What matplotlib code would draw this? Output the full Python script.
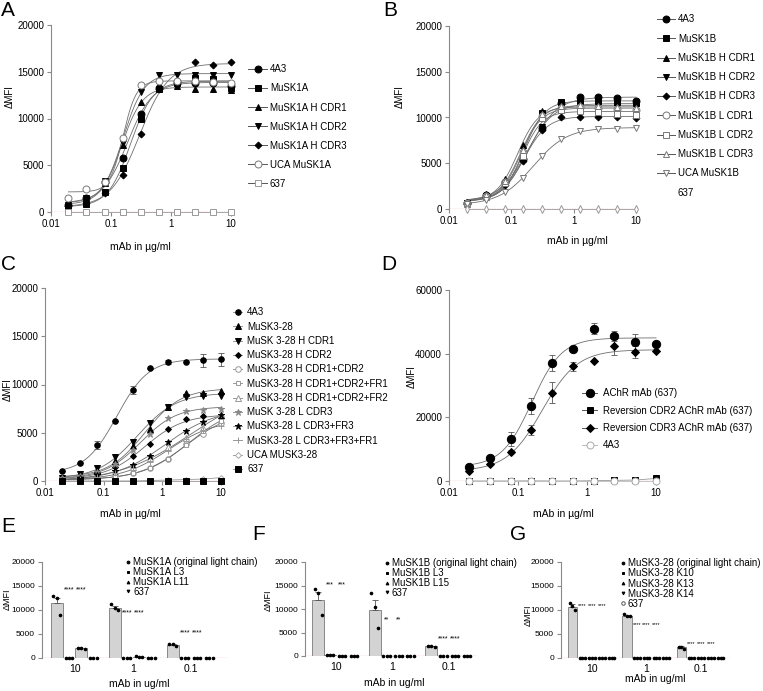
import numpy as np
import matplotlib
matplotlib.use('Agg')
import matplotlib.pyplot as plt
from matplotlib.lines import Line2D

plt.rcParams['font.family'] = ['Liberation Sans', 'DejaVu Sans']

# ---------------- data ----------------
conc = [0.0195, 0.039, 0.078, 0.156, 0.3125, 0.625, 1.25, 2.5, 5, 10]
conc_ticks = [0.01, 0.1, 1, 10]
conc_ticklabels = ['0.01', '0.1', '1', '10']

# Panel A
A_labels = ['4A3', 'MuSK1A', 'MuSK1A H CDR1', 'MuSK1A H CDR2', 'MuSK1A H CDR3', 'UCA MuSK1A', '637']
A_4A3 = [800, 1500, 3200, 5800, 10500, 13300, 13800, 13800, 13800, 13500]
A_MuSK1A = [500, 900, 2100, 4700, 10000, 13200, 13800, 14300, 14200, 13300]
A_HCDR1 = [700, 1300, 3100, 7200, 11800, 13400, 13500, 13200, 13200, 13100]
A_HCDR2 = [800, 1500, 3300, 7400, 12800, 14700, 14700, 14700, 14700, 14700]
A_HCDR3 = [600, 1000, 2000, 4000, 8300, 13200, 14000, 16000, 15700, 16000]
A_UCA = [1500, 2500, 3200, 7900, 13600, 14000, 14000, 14000, 13900, 13800]
A_637 = [0, 0, 0, 0, 0, 0, 0, 0, 0, 0]

# Panel B
B_labels = ['4A3', 'MuSK1B', 'MuSK1B H CDR1', 'MuSK1B H CDR2', 'MuSK1B H CDR3',
            'MuSK1B L CDR1', 'MuSK1B L CDR2', 'MuSK1B L CDR3', 'UCA MuSK1B', '637']
B_4A3 = [700, 1500, 3000, 5500, 8800, 11600, 12200, 12200, 12100, 11800]
B_MuSK1B = [700, 1400, 2800, 6000, 10500, 11700, 11800, 11800, 11700, 11600]
B_HCDR1 = [800, 1600, 3300, 7000, 10700, 11200, 11300, 11200, 11000, 10800]
B_HCDR2 = [600, 1300, 2700, 5300, 9000, 11200, 11500, 11400, 11300, 11300]
B_HCDR3 = [600, 1300, 2600, 5200, 8600, 10000, 10000, 10100, 10100, 9900]
B_LCDR1 = [700, 1400, 2900, 6200, 10200, 11000, 11100, 11000, 10900, 10800]
B_LCDR2 = [600, 1300, 2800, 5800, 9900, 10800, 10700, 10600, 10400, 10300]
B_LCDR3 = [700, 1500, 3100, 6500, 10400, 11300, 11400, 11300, 11200, 11000]
B_UCA = [500, 1000, 1900, 3400, 5800, 7600, 8500, 8700, 8700, 8900]
B_637 = [0, 0, 0, 0, 0, 0, 0, 0, 0, 0]

# Panel C
C_labels = ['4A3', 'MuSK3-28', 'MuSK 3-28 H CDR1', 'MuSK3-28 H CDR2', 'MuSK3-28 H CDR1+CDR2',
            'MuSK3-28 H CDR1+CDR2+FR1', 'MuSK3-28 H CDR1+CDR2+FR2', 'MuSK 3-28 L CDR3',
            'MuSK3-28 L CDR3+FR3', 'MuSK3-28 L CDR3+FR3+FR1', 'UCA MUSK3-28', '637']
C_4A3 = [1000, 1900, 3700, 6200, 9400, 11700, 12300, 12300, 12500, 12600]
C_4A3_err = [0, 0, 400, 0, 400, 0, 200, 0, 700, 700]
C_MuSK328 = [300, 600, 1100, 2100, 3600, 5400, 7700, 9100, 9100, 9300]
C_HCDR1 = [300, 700, 1300, 2500, 4000, 6000, 7700, 8700, 8800, 8800]
C_HCDR2 = [200, 400, 800, 1500, 2600, 3800, 5400, 6400, 6700, 6500]
C_HCDR12 = [100, 200, 300, 500, 800, 1300, 2300, 3800, 4900, 6000]
C_HCDR12FR1 = [100, 150, 300, 500, 800, 1300, 2300, 3700, 5200, 6200]
C_HCDR12FR2 = [200, 300, 500, 900, 1500, 2400, 3500, 4500, 5500, 6900]
C_LCDR3 = [300, 500, 900, 1800, 3200, 4900, 6500, 7300, 7400, 7500]
C_LCDR3FR3 = [100, 300, 600, 1000, 1700, 2600, 4000, 5200, 6100, 6800]
C_LCDR3FR3FR1 = [100, 200, 400, 800, 1300, 2000, 3100, 4400, 5300, 5700]
C_UCA = [0, 0, 0, 0, 0, 50, 100, 150, 200, 350]
C_637 = [0, 0, 0, 0, 0, 0, 0, 0, 0, 0]

# Panel D
D_labels = ['AChR mAb (637)', 'Reversion CDR2 AChR mAb (637)', 'Reversion CDR3 AChR mAb (637)', '4A3']
D_AChR = [4400, 7100, 13300, 23500, 37000, 41500, 47900, 45500, 43700, 42900]
D_AChR_err = [800, 500, 2200, 2500, 2600, 500, 1800, 1600, 2500, 0]
D_CDR2 = [0, 0, 0, 50, 0, 0, 100, 200, 300, 800]
D_CDR3 = [3000, 5300, 9200, 16000, 27800, 36000, 37800, 42500, 40500, 40800]
D_CDR3_err = [300, 300, 500, 1500, 3200, 1500, 0, 3000, 2000, 0]
D_4A3 = [0, 0, 0, 0, 0, 0, 0, 0, 0, 0]

# Bar panels
bar_groups = ['10', '1', '0.1']

E_labels = ['MuSK1A (original light chain)', 'MuSK1A L3', 'MuSK1A L11', '637']
E_means = [[11400, 10500, 2800], [60, 60, 60], [2000, 300, 60], [40, 40, 40]]
E_points = [[[13000, 12600, 9000], [11300, 10400, 10100], [3000, 2900, 2600]],
            [[50, 50, 50], [50, 50, 50], [50, 50, 50]],
            [[2100, 2000, 1900], [350, 300, 250], [60, 60, 60]],
            [[40, 40, 40], [40, 40, 40], [40, 40, 40]]]
E_err = [1200, 400, 150]
E_stars = ['****', '****', '****']
E_star_y = [14200, 9500, 5300]

F_labels = ['MuSK1B (original light chain)', 'MuSK1B L3', 'MuSK1B L15', '637']
F_means = [[12000, 9800, 2100], [200, 60, 60], [60, 60, 60], [40, 40, 40]]
F_points = [[[14200, 13500, 8800], [13400, 10500, 6000], [2200, 2100, 2000]],
            [[200, 200, 150], [60, 60, 60], [60, 60, 60]],
            [[60, 60, 60], [60, 60, 60], [60, 60, 60]],
            [[40, 40, 40], [40, 40, 40], [40, 40, 40]]]
F_err = [1700, 2200, 80]
F_stars = ['***', '**', '****']
F_star_y = [15200, 7600, 3700]

G_labels = ['MuSK3-28 (original light chain)', 'MuSK3-28 K10', 'MuSK3-28 K13', 'MuSK3-28 K14', '637']
G_means = [[10700, 8700, 2200], [60, 60, 60], [40, 40, 40], [60, 60, 60], [40, 40, 40]]
G_points = [[[11400, 10900, 10000], [9100, 8800, 8700], [2300, 2200, 1900]],
            [[60, 60, 60], [60, 60, 60], [60, 60, 60]],
            [[40, 40, 40], [40, 40, 40], [40, 40, 40]],
            [[60, 60, 60], [60, 60, 60], [60, 60, 60]],
            [[40, 40, 40], [40, 40, 40], [40, 40, 40]]]
G_err = [500, 150, 200]
G_stars = ['****', '****', '****']
G_star_y = [11000, 6900, 3000]

# ---------------- helpers ----------------
W, H = 763, 691
fig = plt.figure(figsize=(W / 100, H / 100), dpi=100)
GRAY = '#8a8a8a'
CURVE = '#6e6e6e'
RED = '#e8403a'


def add_ax(l, t, r, b):
    return fig.add_axes([l / W, 1 - b / H, (r - l) / W, (b - t) / H])


def ftext(x, y, s, **kw):
    kw.setdefault('ha', 'center')
    kw.setdefault('va', 'center')
    fig.text(x / W, 1 - y / H, s, **kw)


def style(ax, ymax, ystep, fs=7):
    for s in ['top', 'right', 'bottom']:
        ax.spines[s].set_visible(False)
    ax.spines['left'].set_color(GRAY)
    ax.spines['left'].set_linewidth(0.8)
    ax.axhline(0, color=RED, ls=(0, (1, 1)), lw=0.9, zorder=1.6)
    ax.set_ylim(0, ymax)
    ax.set_yticks(np.arange(0, ymax + 1, ystep))
    ax.set_yticklabels([str(int(v)) for v in np.arange(0, ymax + 1, ystep)])
    ax.tick_params(colors=GRAY, labelcolor='black', labelsize=fs, length=3, width=0.8, pad=2)
    ax.patch.set_alpha(0)


def log_axis(ax):
    ax.set_xscale('log')
    ax.set_xlim(0.01, 10)
    ax.set_xticks(conc_ticks)
    ax.set_xticklabels(conc_ticklabels)
    ax.minorticks_off()


def fit4pl(x, y):
    lx = np.log10(np.asarray(x, float))
    y = np.asarray(y, float)
    les = np.linspace(-2.5, 1.5, 161)
    hs = np.linspace(0.4, 4.0, 37)
    LE, HH = np.meshgrid(les, hs, indexing='ij')
    S = 1.0 / (1.0 + 10 ** ((LE[..., None] - lx) * HH[..., None]))
    A0 = 1 - S
    a00 = (A0 * A0).sum(-1); a01 = (A0 * S).sum(-1); a11 = (S * S).sum(-1)
    b0 = (A0 * y).sum(-1); b1 = (S * y).sum(-1)
    det = a00 * a11 - a01 ** 2
    det = np.where(det < 1e-9, np.nan, det)
    bot = (a11 * b0 - a01 * b1) / det
    top = (a00 * b1 - a01 * b0) / det
    pred = bot[..., None] * A0 + top[..., None] * S
    sse = ((pred - y) ** 2).sum(-1)
    i = np.unravel_index(np.nanargmin(sse), sse.shape)
    return bot[i], top[i], LE[i], HH[i]


def curve(ax, x, y, fit=True, lc=CURVE, lw=0.6):
    x = np.asarray(x, float)
    y = np.asarray(y, float)
    if fit and np.ptp(y) > 0:
        b, t, le, h = fit4pl(x, y)
        xs = np.logspace(np.log10(x.min()), np.log10(x.max()), 200)
        ys = b + (t - b) / (1 + 10 ** ((le - np.log10(xs)) * h))
        ax.plot(xs, ys, color=lc, lw=lw, zorder=2, clip_on=False)
    else:
        ax.plot(x, y, color=lc, lw=lw, zorder=2, clip_on=False)


def points(ax, x, y, spec, err=None):
    m, fc, ec, ms = spec
    if err is not None:
        ax.errorbar(x, y, yerr=err, fmt='none', ecolor='#555555', elinewidth=0.6,
                    capsize=2, capthick=0.6, zorder=3, clip_on=False)
    ax.plot(x, y, ls='none', marker=m, mfc=fc, mec=ec, ms=ms, mew=0.7, zorder=4, clip_on=False)


def handle(spec, line=True, lc='#555555'):
    m, fc, ec, ms = spec
    return Line2D([0], [0], color=lc if line else 'none', lw=0.7, marker=m, mfc=fc, mec=ec,
                  ms=ms, mew=0.7)


def legend(ax, handles, labels, x, yc, fs, pitch_px, hlen_px, pad_px):
    pt = 0.72
    ls = (pitch_px * pt - 0.95 * fs) / fs
    top = yc - 0.95 * fs / pt / 2
    lg = ax.legend(handles, labels, loc='upper left', bbox_to_anchor=(x / W, 1 - top / H),
                   bbox_transform=fig.transFigure, frameon=False, fontsize=fs,
                   labelspacing=ls, handlelength=hlen_px * pt / fs,
                   handletextpad=pad_px * pt / fs, borderpad=0, borderaxespad=0,
                   handleheight=0.7, numpoints=1)
    return lg


# ---------------- Panel A ----------------
axA = add_ax(51, 25, 231, 212)
style(axA, 20000, 5000)
log_axis(axA)
A_data = [A_4A3, A_MuSK1A, A_HCDR1, A_HCDR2, A_HCDR3, A_UCA, A_637]
A_spec = [('o', 'k', 'k', 5), ('s', 'k', 'k', 4.5), ('^', 'k', 'k', 5), ('v', 'k', 'k', 5),
          ('D', 'k', 'k', 3.5), ('o', 'white', '#777777', 5), ('s', 'white', '#999999', 4.5)]
for d, sp in zip(A_data, A_spec):
    curve(axA, conc, d, fit=(max(d) > 0), lc=('#999999' if max(d) == 0 else CURVE))
for d, sp in zip(A_data, A_spec):
    points(axA, conc, d, sp)
legend(axA, [handle(s) for s in A_spec], A_labels, 248, 69, 7, 18.3, 19, 3)

# ---------------- Panel B ----------------
axB = add_ax(449, 26, 636, 209)
style(axB, 20000, 5000)
log_axis(axB)
B_data = [B_4A3, B_MuSK1B, B_HCDR1, B_HCDR2, B_HCDR3, B_LCDR1, B_LCDR2, B_LCDR3, B_UCA, B_637]
B_spec = [('o', 'k', 'k', 5), ('s', 'k', 'k', 4.5), ('^', 'k', 'k', 5), ('v', 'k', 'k', 5),
          ('D', 'k', 'k', 3.5), ('o', 'white', '#777777', 5), ('s', 'white', '#777777', 4.5),
          ('^', 'white', '#777777', 5), ('v', 'white', '#777777', 5), ('d', 'white', '#999999', 4)]
for d in B_data:
    curve(axB, conc, d, fit=(max(d) > 0), lc=('#999999' if max(d) == 0 else CURVE))
for d, sp in zip(B_data, B_spec):
    points(axB, conc, d, sp)
B_handles = [handle(s) for s in B_spec[:-1]] + [Line2D([0], [0], color='none', marker='None')]
legend(axB, B_handles, B_labels, 657, 19, 7, 18.5, 18, 3)

# ---------------- Panel C ----------------
axC = add_ax(45, 288, 221, 481)
style(axC, 20000, 5000)
log_axis(axC)
C_data = [C_4A3, C_MuSK328, C_HCDR1, C_HCDR2, C_HCDR12, C_HCDR12FR1, C_HCDR12FR2,
          C_LCDR3, C_LCDR3FR3, C_LCDR3FR3FR1, C_UCA, C_637]
C_spec = [('o', 'k', 'k', 4), ('^', 'k', 'k', 4), ('v', 'k', 'k', 4), ('D', 'k', 'k', 3),
          ('o', 'white', '#999999', 4), ('s', 'white', '#999999', 3.5), ('^', 'white', '#999999', 4),
          ('*', '#888888', '#888888', 4.5), ('*', 'k', 'k', 4.5), ('+', '#999999', '#999999', 4.5),
          ('D', 'white', '#aaaaaa', 3), ('s', 'k', 'k', 4)]
for d in C_data:
    curve(axC, conc, d, fit=(max(d) > 500), lc=CURVE if max(d) > 500 else '#999999')
for i, (d, sp) in enumerate(zip(C_data, C_spec)):
    points(axC, conc, d, sp, err=C_4A3_err if i == 0 else None)
legend(axC, [handle(s, lc='#999999') for s in C_spec], C_labels, 233, 312, 7, 13.5, 9, 5)

# ---------------- Panel D ----------------
axD = add_ax(449, 290, 656, 481)
style(axD, 60000, 20000)
log_axis(axD)
D_data = [D_AChR, D_CDR2, D_CDR3, D_4A3]
D_spec = [('o', 'k', 'k', 6), ('s', 'k', 'k', 5), ('D', 'k', 'k', 4), ('o', 'white', '#aaaaaa', 5)]
D_errs = [D_AChR_err, None, D_CDR3_err, None]
curve(axD, conc, D_AChR)
curve(axD, conc, D_CDR3)
curve(axD, conc, D_CDR2, fit=False, lc='#999999')
curve(axD, conc, D_4A3, fit=False, lc='#bbbbbb')
for d, sp, e in zip(D_data, D_spec, D_errs):
    points(axD, conc, d, sp, err=e)
D_handles = [handle(D_spec[0]), handle(D_spec[1]), handle(D_spec[2]), handle(D_spec[3], lc='#bbbbbb')]
legend(axD, D_handles, D_labels, 582, 393, 7, 16.5, 15, 6)


# ---------------- Bar panels ----------------
def bar_panel(ax, means, pts, err, labels, stars, star_y, nb, width, xlim, star_fs):
    n_groups = len(bar_groups)
    gx = np.arange(n_groups)
    for i in range(nb):
        xs = gx + (i - (nb - 1) / 2) * width
        ax.bar(xs, means[i], width, color='#d3d3d3', edgecolor='#7a7a7a', lw=0.6, zorder=2)
        if i == 0:
            ax.errorbar(xs, means[i], yerr=[np.zeros(n_groups), err], fmt='none',
                        ecolor='#555555', elinewidth=0.6, capsize=2, capthick=0.6, zorder=3)
        for g in range(n_groups):
            p = pts[i][g]
            offs = np.linspace(-width * 0.28, width * 0.28, len(p))
            ax.plot(xs[g] + offs, p, ls='none', marker='o', ms=1.6, color='k', zorder=4,
                    clip_on=False)
    for g in range(n_groups):
        for i in range(1, nb - 1):
            x = gx[g] + (i - (nb - 1) / 2) * width
            ax.text(x, star_y[g], stars[g], fontsize=star_fs, ha='center', va='center', zorder=5)
    ax.set_xlim(*xlim)
    ax.set_xticks(gx)
    ax.set_xticklabels(bar_groups, fontsize=7.5)
    ax.tick_params(axis='x', length=0, pad=4)
    ax.tick_params(axis='y', labelsize=6)


bar_specs4 = [('o', 'k', 'k', 2), ('s', 'k', 'k', 2), ('^', 'k', 'k', 2), ('v', 'k', 'k', 2)]
bar_specs5 = [('o', 'k', 'k', 2), ('s', 'k', 'k', 2), ('^', 'k', 'k', 2), ('v', 'k', 'k', 2),
              ('o', 'white', '#555555', 2.5)]

axE = add_ax(42, 562, 228, 658)
style(axE, 20000, 5000, fs=6)
bar_panel(axE, E_means, E_points, E_err, E_labels, E_stars, E_star_y, 4, 0.21, (-0.57, 2.64), 5)
legend(axE, [handle(s, line=False) for s in bar_specs4], E_labels, 126, 562, 7, 9, 4, 3)

axF = add_ax(305, 562, 478, 656)
style(axF, 20000, 5000, fs=6)
bar_panel(axF, F_means, F_points, F_err, F_labels, F_stars, F_star_y, 4, 0.21, (-0.55, 2.51), 5)
legend(axF, [handle(s, line=False) for s in bar_specs4], F_labels, 385, 563, 7, 9, 4, 3)

axG = add_ax(561, 562, 730, 658)
style(axG, 20000, 5000, fs=6)
bar_panel(axG, G_means, G_points, G_err, G_labels, G_stars, G_star_y, 5, 0.18, (-0.57, 2.53), 4)
legend(axG, [handle(s, line=False) for s in bar_specs5], G_labels, 621, 563, 7, 9.3, 4, 3)

# ---------------- texts ----------------
for letter, x, y in [('A', 8, 10), ('B', 390, 10), ('C', 9, 265), ('D', 389, 265),
                     ('E', 8, 527), ('F', 259, 534), ('G', 518, 534)]:
    ftext(x, y, letter, fontsize=15)

for x, y in [(10, 97), (400, 97), (8, 390), (412, 377)]:
    ftext(x, y, 'ΔMFI', fontsize=7, rotation=90)
for x, y in [(7, 599), (268, 600), (528, 615)]:
    ftext(x, y, 'ΔMFI', fontsize=6.5, rotation=90)

ftext(140, 247, 'mAb in µg/ml', fontsize=7.5)
ftext(577, 241, 'mAb in µg/ml', fontsize=7.5)
ftext(130, 514, 'mAb in µg/ml', fontsize=7.5)
ftext(563, 514, 'mAb in µg/ml', fontsize=7.5)
ftext(139, 684, 'mAb in ug/ml', fontsize=7.5)
ftext(394, 683, 'mAb in ug/ml', fontsize=7.5)
ftext(655, 679, 'mAb in ug/ml', fontsize=7.5)

fig.savefig('out.png', dpi=100)
